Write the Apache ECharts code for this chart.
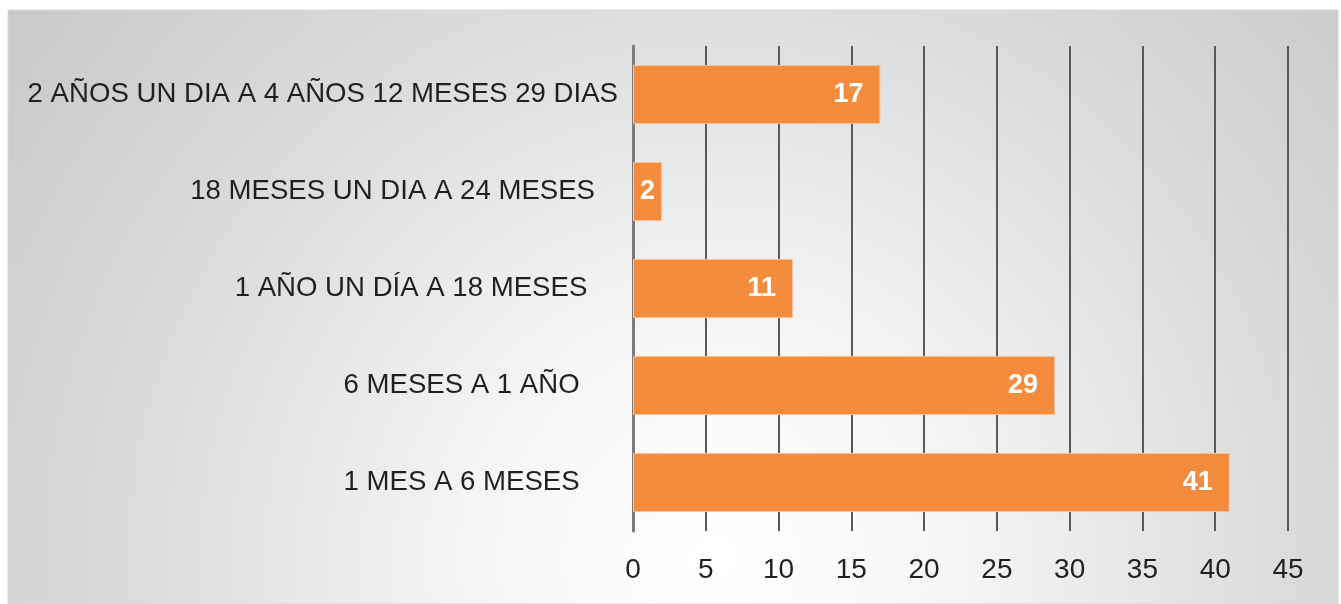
<!DOCTYPE html>
<html>
<head>
<meta charset="utf-8">
<style>
  html, body { margin: 0; padding: 0; background: #fff; }
  #main { width: 1341px; height: 604px; }
</style>
<script src="https://cdn.jsdelivr.net/npm/echarts@6/dist/echarts.min.js"></script>
</head>
<body>
<div id="main"></div>
<script>
// categorias de abajo hacia arriba (el eje invierte el orden visual)
// los espacios al final reproducen la alineacion del original
const categories = [
  '1 MES A 6 MESES     ',
  '6 MESES A 1 AÑO     ',
  '1 AÑO UN DÍA A 18 MESES    ',
  '18 MESES UN DIA A 24 MESES   ',
  '2 AÑOS UN DIA A 4 AÑOS 12 MESES 29 DIAS'
];
const values = [41, 29, 11, 2, 17];
const xTicks = [0, 5, 10, 15, 20, 25, 30, 35, 40, 45];

const container = document.getElementById('main');
const myChart = echarts.init(container);

myChart.setOption({
  backgroundColor: '#fff',
  animation: false,
  graphic: [
    {
      type: 'rect',
      z: -10,
      silent: true,
      shape: { x: 8, y: 10, width: 1330, height: 594 },
      style: {
        fill: {
          type: 'radial',
          x: 0.53, y: 0.92, r: 1.55,
          colorStops: [
            { offset: 0, color: '#ffffff' },
            { offset: 0.25, color: '#f6f6f6' },
            { offset: 0.6, color: '#dcdddf' },
            { offset: 1, color: '#c6c7c9' }
          ]
        },
        stroke: '#d8d8d8',
        lineWidth: 1
      }
    }
  ],
  grid: {
    left: 633,
    right: 53,
    top: 46,
    bottom: 73
  },
  xAxis: {
    type: 'value',
    min: xTicks[0],
    max: xTicks[xTicks.length - 1],
    interval: 5,
    axisLine: { show: false },
    axisTick: { show: false },
    axisLabel: {
      margin: 25,
      fontFamily: 'Liberation Sans',
      fontSize: 28,
      color: '#231f20'
    },
    splitLine: {
      show: true,
      lineStyle: { color: '#58595b', width: 2 }
    }
  },
  yAxis: {
    type: 'category',
    data: categories,
    axisLine: {
      show: true,
      lineStyle: { color: '#7a7b7e', width: 3 }
    },
    axisTick: { show: false },
    axisLabel: {
      margin: 15,
      fontFamily: 'Liberation Sans',
      fontSize: 27.6,
      color: '#231f20'
    }
  },
  series: [
    {
      type: 'bar',
      barCategoryGap: '39%',
      data: values.map(v => ({
        value: v,
        label: v < 5 ? { position: 'inside' } : {}
      })),
      itemStyle: {
        color: '#f48c3e',
        borderColor: '#f9c39b',
        borderWidth: 1
      },
      label: {
        show: true,
        position: 'insideRight',
        distance: 17,
        color: '#ffffff',
        fontFamily: 'Liberation Sans',
        fontWeight: 'bold',
        fontSize: 27
      }
    }
  ]
});

let resizeObserver = new ResizeObserver(() => myChart?.resize());
resizeObserver.observe(container);
</script>
</body>
</html>
